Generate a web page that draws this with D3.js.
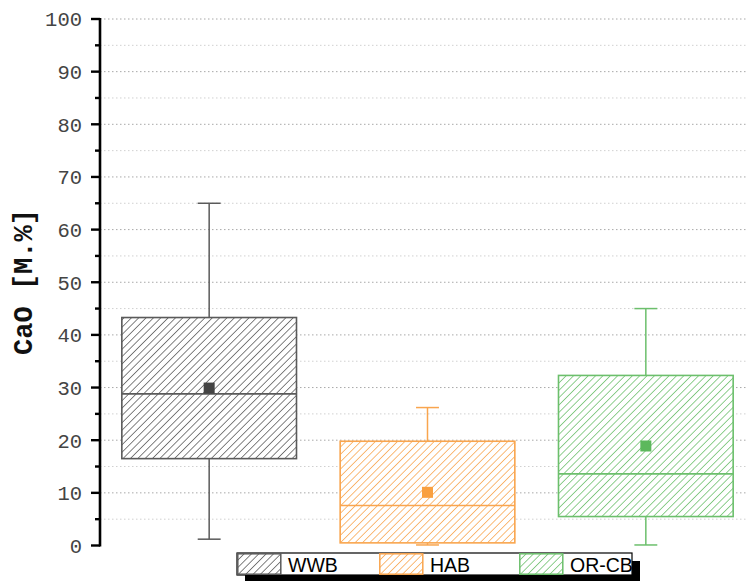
<!DOCTYPE html>
<html>
<head>
<meta charset="utf-8">
<script src="https://cdn.jsdelivr.net/npm/d3@7"></script>
<style>
  html, body { margin: 0; padding: 0; background: #fff; }
  svg { display: block; }
</style>
</head>
<body>
<svg id="chart" width="746" height="581"></svg>
<script>
// Box statistics per group (CaO, mass %)
const categories  = ["WWB", "HAB", "OR-CB"];
const whiskerLow  = [1.2, 0.1, 0.1];
const q1          = [16.5, 0.5, 5.5];
const median      = [28.8, 7.6, 13.6];
const q3          = [43.3, 19.8, 32.3];
const whiskerHigh = [65.0, 26.2, 45.0];
const mean        = [29.9, 10.1, 18.9];
const colors      = ["#5a5a5a", "#f9a54e", "#6cbf6c"];
const meanColors  = ["#444444", "#f9a040", "#5cb85c"];
const yTicks      = [0, 10, 20, 30, 40, 50, 60, 70, 80, 90, 100];
const yMinorTicks = [5, 15, 25, 35, 45, 55, 65, 75, 85, 95];

const groups = categories.map((c, i) => ({
  name: c, i,
  lo: whiskerLow[i], q1: q1[i], med: median[i], q3: q3[i], hi: whiskerHigh[i],
  mean: mean[i], color: colors[i], meanColor: meanColors[i]
}));

const svg = d3.select("#chart");
const W = 746;
const axisX = 100;

const y = d3.scaleLinear().domain([0, 100]).range([545.5, 19]);
const x = d3.scaleLinear().domain([0.5, 3.5]).range([axisX, 755]);
const step = x(2) - x(1);
const boxW = step * 0.8;
const capW = step * 0.105;

// hatch patterns
const defs = svg.append("defs");
groups.forEach(g => {
  const p = defs.append("pattern")
    .attr("id", "hatch" + g.i)
    .attr("patternUnits", "userSpaceOnUse")
    .attr("width", 5.2).attr("height", 5.2)
    .attr("patternTransform", "rotate(45)");
  p.append("rect").attr("width", 5.2).attr("height", 5.2).attr("fill", "#fff");
  p.append("line").attr("x1", 0).attr("y1", 0).attr("x2", 0).attr("y2", 5.2)
    .attr("stroke", g.color).attr("stroke-width", 1.5);
});

// grid
svg.append("g").selectAll("line.minor").data(yMinorTicks).join("line")
  .attr("x1", axisX).attr("x2", W)
  .attr("y1", d => y(d)).attr("y2", d => y(d))
  .attr("stroke", "#d0d0d0").attr("stroke-width", 1).attr("stroke-dasharray", "1.5,2.5");
svg.append("g").selectAll("line.major").data(yTicks.filter(d => d > 0)).join("line")
  .attr("x1", axisX).attr("x2", W)
  .attr("y1", d => y(d)).attr("y2", d => y(d))
  .attr("stroke", "#a8a8a8").attr("stroke-width", 1).attr("stroke-dasharray", "1.5,2.5");

// boxes
const gb = svg.append("g").selectAll("g").data(groups).join("g");
gb.append("line") // whisker
  .attr("x1", d => x(d.i + 1)).attr("x2", d => x(d.i + 1))
  .attr("y1", d => y(d.lo)).attr("y2", d => y(d.hi))
  .attr("stroke", d => d.color).attr("stroke-width", 1.5);
gb.append("line").attr("class", "capHi")
  .attr("x1", d => x(d.i + 1) - capW / 2).attr("x2", d => x(d.i + 1) + capW / 2)
  .attr("y1", d => y(d.hi)).attr("y2", d => y(d.hi))
  .attr("stroke", d => d.color).attr("stroke-width", 1.5);
gb.append("line").attr("class", "capLo")
  .attr("x1", d => x(d.i + 1) - capW / 2).attr("x2", d => x(d.i + 1) + capW / 2)
  .attr("y1", d => y(d.lo)).attr("y2", d => y(d.lo))
  .attr("stroke", d => d.color).attr("stroke-width", 1.5);
gb.append("rect")
  .attr("x", d => x(d.i + 1) - boxW / 2).attr("width", boxW)
  .attr("y", d => y(d.q3)).attr("height", d => y(d.q1) - y(d.q3))
  .attr("fill", d => `url(#hatch${d.i})`)
  .attr("stroke", d => d.color).attr("stroke-width", 1.6);
gb.append("line")
  .attr("x1", d => x(d.i + 1) - boxW / 2).attr("x2", d => x(d.i + 1) + boxW / 2)
  .attr("y1", d => y(d.med)).attr("y2", d => y(d.med))
  .attr("stroke", d => d.color).attr("stroke-width", 1.6);
gb.append("rect")
  .attr("x", d => x(d.i + 1) - 5.5).attr("y", d => y(d.mean) - 5.5)
  .attr("width", 11).attr("height", 11)
  .attr("fill", d => d.meanColor);

// y axis
const axis = svg.append("g").attr("transform", `translate(${axisX},0)`);
axis.append("line").attr("x1", 0).attr("x2", 0).attr("y1", y(100) - 1).attr("y2", y(0) + 1)
  .attr("stroke", "#000").attr("stroke-width", 2.6);
axis.selectAll("line.tk").data(yTicks).join("line")
  .attr("x1", -9).attr("x2", 0).attr("y1", d => y(d)).attr("y2", d => y(d))
  .attr("stroke", "#000").attr("stroke-width", 2.4);
axis.selectAll("line.mtk").data(yMinorTicks).join("line")
  .attr("x1", -5).attr("x2", 0).attr("y1", d => y(d)).attr("y2", d => y(d))
  .attr("stroke", "#000").attr("stroke-width", 2.4);
axis.selectAll("text").data(yTicks).join("text")
  .attr("x", -18).attr("y", d => y(d)).attr("dy", "0.36em")
  .attr("text-anchor", "end")
  .attr("font-family", "Liberation Mono, monospace").attr("font-size", 20.5)
  .attr("fill", "#444")
  .text(d => d);

// y axis title
svg.append("text")
  .attr("transform", "translate(32,282) rotate(-90)")
  .attr("text-anchor", "middle")
  .attr("font-family", "Liberation Mono, monospace").attr("font-weight", "bold")
  .attr("font-size", 27).attr("fill", "#111")
  .text("CaO [M.%]");

// legend
const lg = svg.append("g");
const lx = 237, ly = 553, lw = 395, lh = 22;
lg.append("rect").attr("x", lx + 8).attr("y", ly + 8).attr("width", lw).attr("height", lh).attr("fill", "#000");
lg.append("rect").attr("x", lx).attr("y", ly).attr("width", lw).attr("height", lh)
  .attr("fill", "#fff").attr("stroke", "#000").attr("stroke-width", 1.2);
const entryX = [237, 379, 519];
const li = lg.selectAll("g").data(groups).join("g")
  .attr("transform", d => `translate(${entryX[d.i]},${ly})`);
li.append("rect").attr("x", 0.8).attr("y", 0.8).attr("width", 43).attr("height", lh - 1.6)
  .attr("fill", d => `url(#hatch${d.i})`).attr("stroke", d => d.color).attr("stroke-width", 1.5);
li.append("text").attr("x", 51).attr("y", 18.5)
  .attr("font-family", "Liberation Sans, Arial, sans-serif").attr("font-size", 19.5)
  .attr("fill", "#000")
  .text(d => d.name);
</script>
</body>
</html>
